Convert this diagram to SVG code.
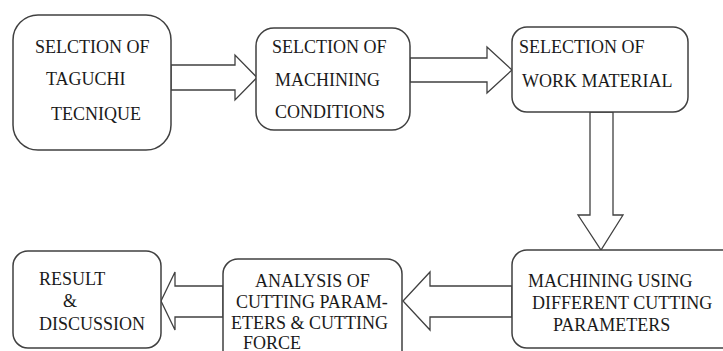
<svg xmlns="http://www.w3.org/2000/svg" width="723" height="351" viewBox="0 0 723 351">
<style>
.box{fill:#fff;stroke:#404040;stroke-width:1.5}
.arr{fill:#fff;stroke:#404040;stroke-width:1.3;stroke-linejoin:miter}
.t{font-family:'Liberation Serif','DejaVu Serif',serif;font-size:18px;fill:#1a1a1a}
</style>
<rect width="723" height="351" fill="#fff"/>
<g id="connectors">
<polygon class="arr" points="171,65 235,65 235,55 257,77.5 235,100 235,90 171,90"/>
<polygon class="arr" points="410,58 487,58 487,47 512,70 487,93 487,82 410,82"/>
<polygon class="arr" points="590,112 613,112 613,215 623,215 601,250 578,215 590,215"/>
<polygon class="arr" points="512,286 430,286 430,272 403,301 430,330 430,317 512,317"/>
<polygon class="arr" points="223,286 175,286 175,272 161,301 175,330 175,317 223,317"/>
</g>
<g id="n1">
<rect class="box" x="13" y="15" width="158" height="135" rx="25"/>
<text class="t" x="35" y="53" font-family="Liberation Serif, serif">SELCTION OF</text>
<text class="t" x="46" y="85" font-family="Liberation Serif, serif">TAGUCHI</text>
<text class="t" x="51" y="120" font-family="Liberation Serif, serif">TECNIQUE</text>
</g>
<g id="n2">
<rect class="box" x="256" y="28" width="154" height="102" rx="18"/>
<text class="t" x="272" y="53">SELCTION OF</text>
<text class="t" x="275" y="86">MACHINING</text>
<text class="t" x="275" y="118">CONDITIONS</text>
</g>
<g id="n3">
<rect class="box" x="512" y="27" width="176" height="85" rx="15"/>
<text class="t" x="519" y="53">SELECTION OF</text>
<text class="t" x="522" y="87">WORK MATERIAL</text>
</g>
<g id="n4">
<rect class="box" x="512" y="250" width="225" height="98" rx="15"/>
<text class="t" x="528" y="287">MACHINING USING</text>
<text class="t" x="532" y="309">DIFFERENT CUTTING</text>
<text class="t" x="553" y="331">PARAMETERS</text>
</g>
<g id="n5">
<rect class="box" x="223" y="259" width="179" height="110" rx="15"/>
<text class="t" x="255" y="287">ANALYSIS OF</text>
<text class="t" x="236" y="308">CUTTING PARAM-</text>
<text class="t" x="231" y="329">ETERS &amp; CUTTING</text>
<text class="t" x="243" y="349">FORCE</text>
</g>
<g id="n6">
<rect class="box" x="13" y="251" width="148" height="97" rx="15"/>
<text class="t" x="39" y="285">RESULT</text>
<text class="t" x="63" y="307">&amp;</text>
<text class="t" x="39" y="330">DISCUSSION</text>
</g>
</svg>
